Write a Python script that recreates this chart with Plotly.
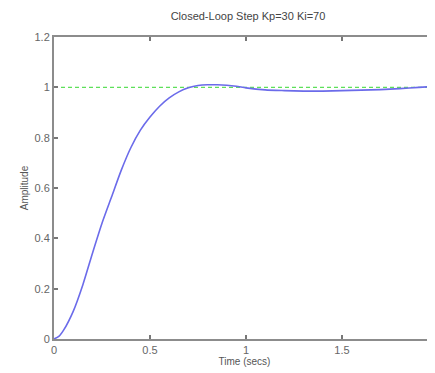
import plotly.graph_objects as go

# Data
time_s = [0, 0.025, 0.05, 0.1, 0.15, 0.2, 0.25, 0.3, 0.35, 0.4, 0.45, 0.5, 0.55, 0.6, 0.65, 0.7,
          0.75, 0.8, 0.85, 0.9, 0.95, 1.0, 1.1, 1.2, 1.3, 1.4, 1.5, 1.6, 1.7, 1.8, 1.9, 2.0]
amplitude = [0, 0.01, 0.035, 0.11, 0.215, 0.34, 0.46, 0.565, 0.67, 0.76, 0.83, 0.882, 0.925,
             0.958, 0.982, 0.998, 1.007, 1.01, 1.01, 1.008, 1.004, 0.998, 0.99, 0.987, 0.985,
             0.985, 0.987, 0.989, 0.991, 0.995, 1.0, 1.004]
ref_t = [0, 2.0]
ref_y = [1.0, 1.0]
x_ticks = [0, 0.5, 1, 1.5, 2]
x_tick_labels = ["0", "0.5", "1", "1.5", "2"]
y_ticks = [0, 0.2, 0.4, 0.6, 0.8, 1.0, 1.2]
y_tick_labels = ["0", "0.2", "0.4", "0.6", "0.8", "1", "1.2"]

# The page body has an 8px default margin, so the figure is sized to fit inside.
W, H = 427, 365
font_family = "Liberation Sans, Arial, sans-serif"
axis_color = "#8c8c8c"

fig = go.Figure()
fig.add_trace(go.Scatter(x=ref_t, y=ref_y, mode="lines",
                         line=dict(color="#5ee05a", width=1.4, dash="4px,3px"),
                         hoverinfo="skip", showlegend=False))
fig.add_trace(go.Scatter(x=time_s, y=amplitude, mode="lines",
                         line=dict(color="#6b6bea", width=1.6, shape="spline", smoothing=0.6),
                         showlegend=False))

fig.update_layout(
    width=W, height=H,
    margin=dict(l=46, r=0, t=29, b=34, autoexpand=False),
    paper_bgcolor="white", plot_bgcolor="white",
    font=dict(family=font_family, color="#555555", size=11),
    title=dict(text="Closed-Loop Step Kp=30 Ki=70", x=240 / W, xanchor="center",
               y=1 - 8 / H, yanchor="middle",
               font=dict(size=11, color="#444444", family=font_family)),
    xaxis=dict(range=[0, 2 * 381 / 384], tickvals=x_ticks, ticktext=x_tick_labels,
               automargin=False,
               showgrid=False, zeroline=False, showline=True, linecolor=axis_color,
               linewidth=2, mirror="ticks", ticks="inside", ticklen=4, tickwidth=1.5,
               tickcolor="#777777", tickfont=dict(size=11, color="#666666"),
               title=dict(text="Time (secs)", standoff=3,
                          font=dict(size=10, color="#555555"))),
    yaxis=dict(range=[0, 1.2], tickvals=y_ticks, ticktext=y_tick_labels,
               automargin=False,
               showgrid=False, zeroline=False, showline=True, linecolor=axis_color,
               linewidth=2, ticks="inside", ticklen=4, tickwidth=1.5,
               tickcolor="#777777", tickfont=dict(size=11, color="#666666"),
               title=dict(text="Amplitude", standoff=4,
                          font=dict(size=10, color="#555555"))),
)

fig.write_html("out.html")
